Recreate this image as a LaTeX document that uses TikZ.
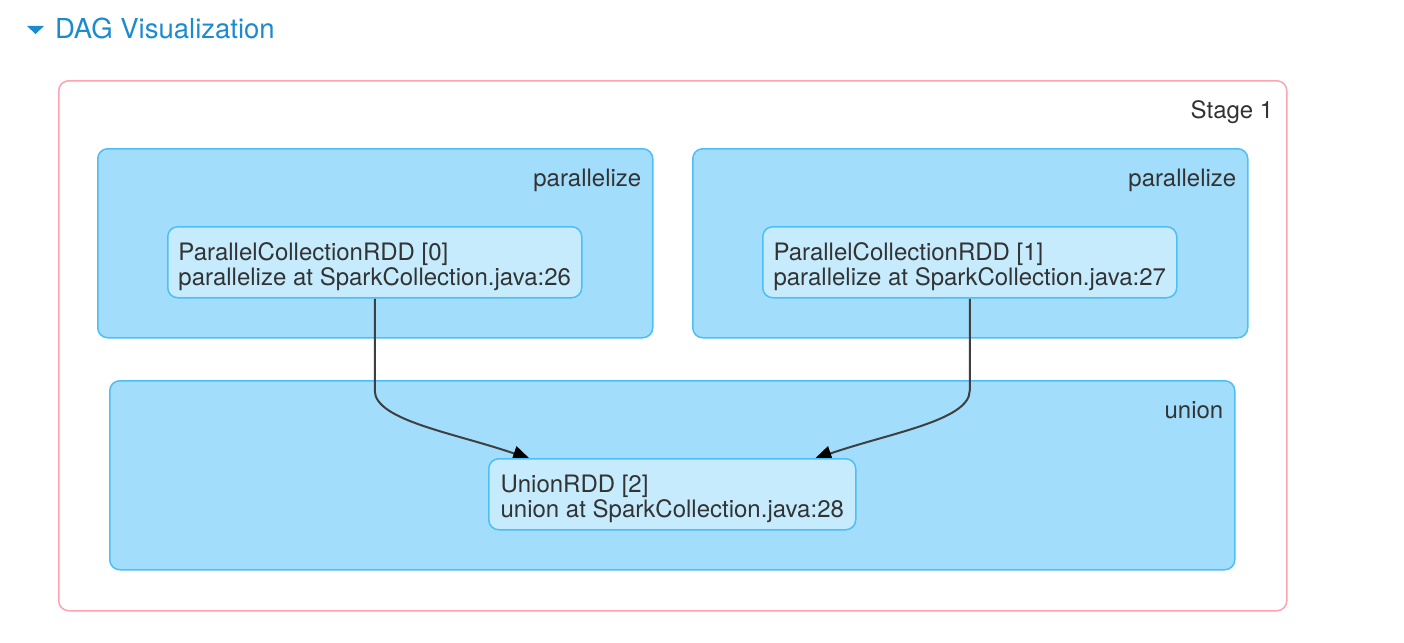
\documentclass[tikz,border=0pt]{standalone}
\usepackage{fontspec}
\setmainfont{TeX Gyre Heros}
\usetikzlibrary{arrows.meta, calc}
\definecolor{dagblue}{HTML}{1B8BD0}
\definecolor{stagepink}{HTML}{FFA3B3}
\definecolor{clusterfill}{HTML}{A2DEFB}
\definecolor{rddfill}{HTML}{C5EBFD}
\definecolor{dagline}{HTML}{4EBFF5}
\definecolor{dagtext}{HTML}{333333}
\definecolor{edgegray}{HTML}{3F3F3F}
\newcommand*{\Txt}{\fontsize{24}{25}\selectfont}
\newcommand*{\TopStrut}{\rule{0pt}{27pt}}
\pgfdeclarelayer{back}
\pgfdeclarelayer{mid}
\pgfsetlayers{back,mid,main}
\tikzset{
  stagebox/.style={draw=stagepink, fill=white, line width=1.5pt, rounded corners=10pt, anchor=north west, inner sep=0pt},
  cluster/.style={draw=dagline, fill=clusterfill, line width=1.5pt, rounded corners=10pt, anchor=north west, minimum height=189pt, inner sep=0pt},
  clusterlabel/.style={anchor=base east, xshift=-12pt, yshift=-38pt, text=dagtext, font=\Txt, inner sep=0pt},
  rdd/.style={draw=dagline, fill=rddfill, line width=1.5pt, rounded corners=10pt, anchor=north west, minimum height=71pt, inner xsep=10pt, align=left, text=dagtext, font=\Txt},
  edge/.style={draw=edgegray, line width=2pt, -{Triangle[length=17pt, width=15pt, color=black]}}
}

\begin{document}
\begin{tikzpicture}[x=1pt, y=-1pt]
  \useasboundingbox (0,0) rectangle (1404,642);
  % header
  \fill[dagblue] (27,26) -- (44,26) -- (35.5,34) -- cycle;
  \node[anchor=base west, inner sep=0pt, text=dagblue, font=\fontsize{27.5}{30}\selectfont] (title) at (55,38) {DAG Visualization};
  % stage and clusters
  \begin{pgfonlayer}{back}
    \node[stagebox, minimum width=1228pt, minimum height=530pt] (stage) at (58,80) {};
    \foreach \i/\x in {0/97, 1/692}{
      \node[cluster, minimum width=555pt] (c\i) at (\x,148) {};
    }
    \node[cluster, minimum width=1125pt] (c2) at (109,380) {};
  \end{pgfonlayer}
  \node[clusterlabel, xshift=-2pt] at (stage.north east) {Stage 1};
  \node[clusterlabel] at (c2.north east) {union};
  % rdds
  \foreach \i/\x/\ln in {0/97/26, 1/692/27}{
    \node[clusterlabel] at (c\i.north east) {parallelize};
    \node[rdd, minimum width=414pt] (p\i) at (\x+70,226) {\TopStrut ParallelCollectionRDD [\i]\\parallelize at SparkCollection.java:\ln};
  }
  \node[rdd, minimum width=367pt] (u) at (488,458) {\TopStrut UnionRDD [2]\\union at SparkCollection.java:28};
  % edges
  \coordinate (u-in0) at ($(u.north west)+(42,1)$);
  \coordinate (u-in1) at ($(u.north east)+(-42,1)$);
  \begin{pgfonlayer}{mid}
    \draw[edge] (p0.south) -- ++(0,92) .. controls +(0,30) and +(-75,-26) .. (u-in0);
    \draw[edge] (p1.south) -- ++(0,92) .. controls +(0,30) and +(75,-26) .. (u-in1);
  \end{pgfonlayer}
\end{tikzpicture}
\end{document}
